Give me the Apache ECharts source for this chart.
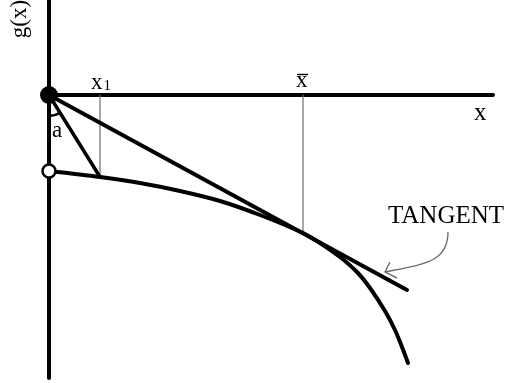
<!DOCTYPE html>
<html><head><meta charset="utf-8">
<script src="https://cdn.jsdelivr.net/npm/echarts@6/dist/echarts.min.js"></script>
<style>html,body{margin:0;padding:0;background:#fff}#c{width:506px;height:383px}</style>
</head><body><div id="c"></div>
<script>
// diagram data (units: x right from origin, g(x) up from origin)
const curveX = [0, 51, 91, 131, 171, 211, 254, 271, 291, 308, 321, 336, 346, 353, 359];
const curveY = [-76, -82, -88, -96, -106, -120, -138, -148, -162, -177, -193, -216, -235, -252, -268];
const tangentX = [0, 358];
const tangentY = [0, -195];
const x1Point = [51, -82];
const xBarPoint = [254, -137];
const xAxisEnd = 444;
const yAxisRange = [95, -283];
const labels = {gx: 'g(x)', x: 'x', x1: 'x', x1sub: '1', xbar: 'x', a: 'a', tangent: 'TANGENT'};

const zip = (xs, ys) => xs.map((v, i) => [v, ys[i]]);
const black = '#000';
const grey = '#6e6e6e';
const serif = '"Liberation Serif", "DejaVu Serif", serif';

const chart = echarts.init(document.getElementById('c'), null, {renderer: 'canvas'});
const lineSeries = (data, width, color, smooth) => ({
  type: 'line', data, symbol: 'none', smooth: smooth || false, silent: true,
  lineStyle: {width, color, cap: 'round', join: 'round', opacity: 1}, z: 2
});
chart.setOption({
  animation: false,
  backgroundColor: '#fff',
  grid: {left: 0, right: 0, top: 0, bottom: 0},
  xAxis: {type: 'value', min: -49, max: 457, show: false},
  yAxis: {type: 'value', min: -288, max: 95, show: false},
  series: [
    lineSeries([[0, yAxisRange[0]], [0, yAxisRange[1]]], 4, black),
    lineSeries([[0, 0], [xAxisEnd, 0]], 4, black),
    lineSeries([[x1Point[0], 0], x1Point], 1.2, grey),
    lineSeries([[xBarPoint[0], 0], xBarPoint], 1.2, grey),
    lineSeries([[0, 0], x1Point], 3.5, black),
    lineSeries(zip(tangentX, tangentY), 4, black),
    lineSeries(zip(curveX, curveY), 4, black, 0.3),
    {type: 'scatter', data: [[0, 0]], symbolSize: 18, itemStyle: {color: black, opacity: 1}, z: 5, silent: true},
    {type: 'scatter', data: [zip(curveX, curveY)[0]], symbolSize: 13,
     itemStyle: {color: '#fff', borderColor: black, borderWidth: 2.5, opacity: 1}, z: 5, silent: true}
  ],
  graphic: [
    {type: 'text', x: 20, y: 19, rotation: Math.PI / 2,
     style: {text: labels.gx, font: '23px ' + serif, fill: black, textAlign: 'center', textVerticalAlign: 'middle'}},
    {type: 'text', x: 91, y: 71,
     style: {text: '{a|' + labels.x1 + '}{b|' + labels.x1sub + '}', fill: black,
       rich: {a: {font: '23px ' + serif, fill: black}, b: {font: '15px ' + serif, fill: black, padding: [8, 0, 0, 1]}}}},
    {type: 'text', x: 296, y: 69, style: {text: labels.xbar, font: '23px ' + serif, fill: black}},
    {type: 'line', shape: {x1: 297, y1: 74.5, x2: 308, y2: 74.5}, style: {stroke: black, lineWidth: 1.4}},
    {type: 'text', x: 474, y: 101, style: {text: labels.x, font: '25px ' + serif, fill: black}},
    {type: 'text', x: 52, y: 119, style: {text: labels.a, font: '23px ' + serif, fill: black}},
    {type: 'arc', shape: {cx: 49, cy: 95, r: 21, startAngle: 1.02, endAngle: Math.PI / 2},
     style: {stroke: black, lineWidth: 2.5, fill: null}},
    {type: 'text', x: 388, y: 204, style: {text: labels.tangent, font: '25px ' + serif, fill: black}},
    {type: 'bezierCurve', shape: {x1: 448, y1: 232, cpx1: 448, cpy1: 262, cpx2: 425, cpy2: 264, x2: 385, y2: 272},
     style: {stroke: grey, lineWidth: 1.4, fill: null}},
    {type: 'polyline', shape: {points: [[390, 262], [385, 272], [397, 278]]},
     style: {stroke: grey, lineWidth: 1.4, fill: null}}
  ]
});
</script></body></html>
